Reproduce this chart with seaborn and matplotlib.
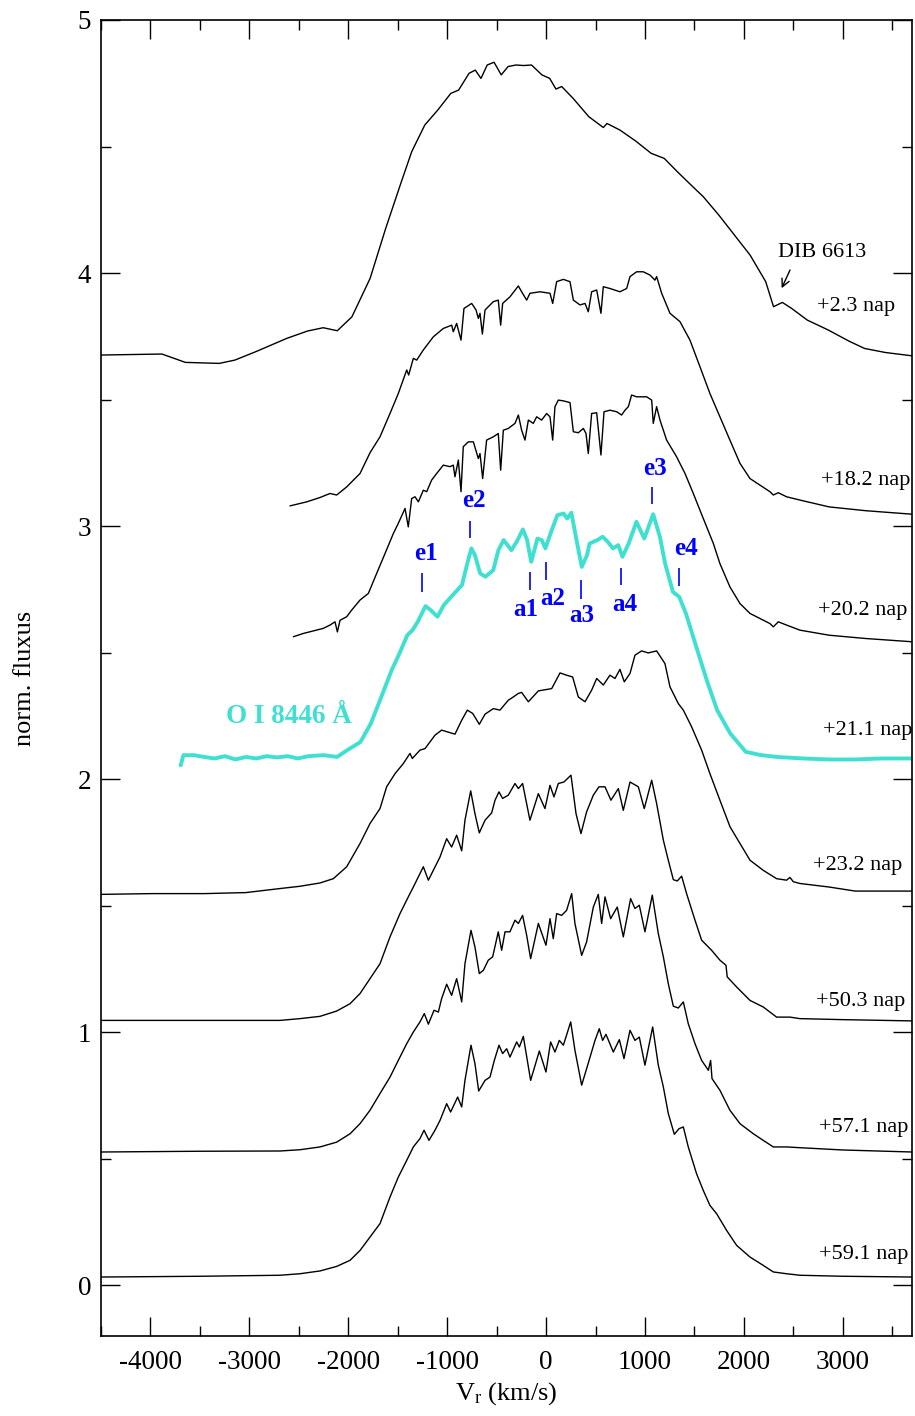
import numpy as np
import pandas as pd
import seaborn as sns
import matplotlib.pyplot as plt
from matplotlib.ticker import MultipleLocator

# Spektrumok: (Vr [km/s], eltolt normalt fluxus), a kepről leolvasva
spec_023 = [(-4500, 3.676), (-4200, 3.678), (-3884, 3.680), (-3647, 3.647), (-3305, 3.643),
            (-3147, 3.656), (-2937, 3.689), (-2621, 3.742), (-2411, 3.771), (-2253, 3.784),
            (-2111, 3.772), (-1963, 3.827), (-1779, 3.979), (-1621, 4.177), (-1463, 4.361),
            (-1358, 4.480), (-1226, 4.585), (-1095, 4.644), (-963, 4.710), (-884, 4.723),
            (-779, 4.789), (-716, 4.802), (-658, 4.769), (-595, 4.822), (-526, 4.833),
            (-453, 4.783), (-384, 4.816), (-305, 4.822), (-226, 4.820), (-147, 4.822),
            (-42, 4.783), (37, 4.769), (100, 4.727), (158, 4.737), (274, 4.690),
            (432, 4.618), (579, 4.575), (616, 4.591), (747, 4.565), (905, 4.522),
            (1063, 4.473), (1195, 4.453), (1326, 4.401), (1484, 4.341), (1589, 4.302),
            (1747, 4.229), (1905, 4.150), (2063, 4.071), (2221, 3.966), (2300, 3.867),
            (2389, 3.884), (2484, 3.860), (2642, 3.814), (2853, 3.775), (3063, 3.731),
            (3221, 3.702), (3432, 3.686), (3700, 3.673)]

spec_182 = [(-2589, 3.080), (-2420, 3.096), (-2286, 3.113), (-2185, 3.129), (-2117, 3.123),
            (-2016, 3.155), (-1881, 3.208), (-1780, 3.290), (-1679, 3.353), (-1578, 3.445),
            (-1494, 3.524), (-1409, 3.617), (-1389, 3.597), (-1342, 3.663), (-1308, 3.656),
            (-1241, 3.696), (-1140, 3.748), (-1039, 3.781), (-954, 3.794), (-938, 3.768),
            (-904, 3.801), (-860, 3.735), (-830, 3.860), (-752, 3.880), (-708, 3.854),
            (-685, 3.821), (-668, 3.841), (-644, 3.759), (-617, 3.854), (-533, 3.887),
            (-483, 3.893), (-459, 3.794), (-439, 3.880), (-365, 3.906), (-280, 3.949),
            (-247, 3.926), (-196, 3.893), (-163, 3.920), (-61, 3.926), (40, 3.920),
            (67, 3.880), (107, 3.966), (175, 3.975), (242, 3.966), (276, 3.893),
            (343, 3.874), (394, 3.880), (427, 3.847), (461, 3.926), (512, 3.933),
            (555, 3.841), (579, 3.946), (646, 3.939), (747, 3.926), (815, 3.939),
            (849, 3.986), (916, 4.005), (983, 4.005), (1051, 3.992), (1101, 3.972),
            (1118, 3.986), (1169, 3.920), (1253, 3.841), (1354, 3.808), (1455, 3.735),
            (1556, 3.630), (1657, 3.524), (1758, 3.432), (1859, 3.340), (1961, 3.248),
            (2062, 3.188), (2163, 3.162), (2264, 3.136), (2298, 3.123), (2348, 3.132),
            (2432, 3.116), (2567, 3.103), (2862, 3.076), (3231, 3.061), (3705, 3.047)]

spec_202 = [(-2555, 2.563), (-2454, 2.576), (-2353, 2.586), (-2252, 2.596), (-2185, 2.609),
            (-2134, 2.622), (-2110, 2.582), (-2083, 2.628), (-2016, 2.642), (-1966, 2.668),
            (-1881, 2.708), (-1797, 2.734), (-1713, 2.813), (-1628, 2.892), (-1544, 2.971),
            (-1494, 3.011), (-1426, 3.070), (-1393, 2.997), (-1359, 3.109), (-1325, 3.116),
            (-1291, 3.096), (-1241, 3.142), (-1207, 3.136), (-1157, 3.182), (-1106, 3.208),
            (-1039, 3.241), (-971, 3.235), (-938, 3.241), (-921, 3.195), (-887, 3.261),
            (-860, 3.136), (-837, 3.314), (-786, 3.333), (-735, 3.333), (-685, 3.267),
            (-668, 3.287), (-641, 3.188), (-601, 3.340), (-533, 3.353), (-483, 3.366),
            (-459, 3.221), (-432, 3.379), (-382, 3.386), (-314, 3.406), (-280, 3.439),
            (-247, 3.379), (-213, 3.340), (-179, 3.419), (-129, 3.406), (-95, 3.432),
            (-45, 3.419), (6, 3.445), (40, 3.432), (67, 3.340), (90, 3.472),
            (124, 3.498), (175, 3.495), (242, 3.488), (276, 3.373), (326, 3.369),
            (377, 3.386), (404, 3.366), (427, 3.287), (461, 3.445), (512, 3.448),
            (555, 3.281), (586, 3.452), (646, 3.458), (714, 3.452), (764, 3.439),
            (798, 3.458), (832, 3.472), (865, 3.518), (916, 3.511), (966, 3.511),
            (1017, 3.511), (1068, 3.498), (1084, 3.406), (1118, 3.472), (1152, 3.419),
            (1219, 3.340), (1320, 3.274), (1405, 3.208), (1489, 3.129), (1556, 3.063),
            (1624, 2.997), (1691, 2.932), (1758, 2.852), (1859, 2.760), (1961, 2.694),
            (2062, 2.655), (2163, 2.635), (2264, 2.615), (2298, 2.602), (2348, 2.622),
            (2432, 2.609), (2567, 2.589), (2862, 2.569), (3231, 2.556), (3705, 2.543)]

# O I 8446 (+21.1 nap)
spec_oi = [(-3694, 2.055), (-3667, 2.095), (-3562, 2.095), (-3457, 2.088), (-3352, 2.082),
           (-3246, 2.091), (-3141, 2.078), (-3036, 2.088), (-2930, 2.082), (-2825, 2.091),
           (-2720, 2.086), (-2614, 2.091), (-2509, 2.082), (-2404, 2.091), (-2246, 2.095),
           (-2114, 2.088), (-2009, 2.115), (-1877, 2.147), (-1772, 2.220), (-1666, 2.325),
           (-1561, 2.431), (-1482, 2.497), (-1403, 2.569), (-1350, 2.589), (-1298, 2.622),
           (-1219, 2.684), (-1166, 2.668), (-1098, 2.642), (-1034, 2.688), (-929, 2.734),
           (-850, 2.767), (-797, 2.852), (-755, 2.912), (-719, 2.885), (-666, 2.813),
           (-613, 2.800), (-534, 2.826), (-482, 2.905), (-429, 2.945), (-350, 2.905),
           (-297, 2.938), (-234, 2.987), (-192, 2.945), (-150, 2.859), (-87, 2.951),
           (-44, 2.945), (-7, 2.912), (45, 2.971), (114, 3.043), (177, 3.050),
           (214, 3.030), (256, 3.053), (308, 2.945), (361, 2.839), (414, 2.885),
           (440, 2.931), (519, 2.945), (572, 2.958), (624, 2.938), (677, 2.912),
           (730, 2.925), (772, 2.879), (835, 2.931), (914, 3.017), (993, 2.951),
           (1083, 3.047), (1151, 2.958), (1204, 2.852), (1283, 2.740), (1346, 2.721),
           (1414, 2.655), (1519, 2.523), (1625, 2.391), (1730, 2.273), (1862, 2.181),
           (2020, 2.108), (2178, 2.095), (2336, 2.088), (2599, 2.082), (2862, 2.078),
           (3126, 2.078), (3389, 2.082), (3705, 2.082)]

spec_232 = [(-4500, 1.545), (-3983, 1.548), (-3457, 1.548), (-3036, 1.552), (-2690, 1.568),
            (-2488, 1.577), (-2286, 1.590), (-2151, 1.607), (-2016, 1.654), (-1881, 1.746),
            (-1780, 1.825), (-1679, 1.884), (-1612, 1.970), (-1527, 2.022), (-1443, 2.062),
            (-1376, 2.102), (-1352, 2.082), (-1275, 2.115), (-1224, 2.121), (-1123, 2.174),
            (-1056, 2.194), (-921, 2.178), (-853, 2.233), (-796, 2.273), (-742, 2.260),
            (-675, 2.217), (-617, 2.257), (-533, 2.279), (-466, 2.273), (-382, 2.312),
            (-331, 2.325), (-280, 2.339), (-247, 2.343), (-179, 2.306), (-78, 2.349),
            (57, 2.358), (141, 2.420), (208, 2.411), (269, 2.404), (326, 2.325),
            (394, 2.306), (461, 2.352), (512, 2.398), (579, 2.372), (646, 2.411),
            (697, 2.398), (747, 2.434), (791, 2.385), (849, 2.418), (899, 2.490),
            (966, 2.507), (1034, 2.499), (1118, 2.507), (1202, 2.457), (1253, 2.365),
            (1337, 2.299), (1388, 2.273), (1472, 2.207), (1573, 2.115), (1657, 2.022),
            (1758, 1.917), (1860, 1.812), (1961, 1.746), (2062, 1.680), (2196, 1.640),
            (2331, 1.607), (2432, 1.601), (2466, 1.612), (2500, 1.595), (2567, 1.588),
            (2862, 1.574), (3126, 1.558), (3389, 1.558), (3700, 1.558)]

spec_503 = [(-4500, 1.047), (-3500, 1.047), (-2690, 1.047), (-2488, 1.054), (-2286, 1.063),
            (-2117, 1.084), (-1982, 1.113), (-1881, 1.153), (-1780, 1.212), (-1679, 1.271),
            (-1578, 1.377), (-1477, 1.469), (-1393, 1.535), (-1342, 1.574), (-1275, 1.627),
            (-1241, 1.654), (-1190, 1.601), (-1140, 1.640), (-1072, 1.693), (-1005, 1.765),
            (-955, 1.732), (-904, 1.779), (-853, 1.717), (-820, 1.838), (-762, 1.954),
            (-719, 1.864), (-675, 1.788), (-617, 1.838), (-550, 1.867), (-516, 1.917),
            (-476, 1.950), (-439, 1.924), (-382, 1.937), (-314, 1.983), (-280, 1.963),
            (-237, 1.983), (-163, 1.838), (-78, 1.943), (-11, 1.884), (40, 1.976),
            (80, 1.930), (124, 1.983), (181, 1.989), (252, 2.016), (303, 1.864),
            (353, 1.785), (410, 1.871), (478, 1.937), (535, 1.970), (596, 1.970),
            (656, 1.917), (731, 1.963), (781, 1.877), (849, 1.989), (933, 1.970),
            (993, 1.884), (1068, 1.996), (1118, 1.904), (1186, 1.759), (1236, 1.680),
            (1287, 1.603), (1327, 1.598), (1371, 1.617), (1421, 1.548), (1506, 1.443),
            (1573, 1.364), (1674, 1.324), (1758, 1.285), (1819, 1.265), (1832, 1.219),
            (1927, 1.179), (2062, 1.126), (2196, 1.100), (2331, 1.060), (2466, 1.060),
            (2567, 1.054), (3000, 1.050), (3700, 1.045)]

spec_571 = [(-4500, 0.527), (-3500, 0.530), (-2690, 0.531), (-2488, 0.536), (-2286, 0.547),
            (-2117, 0.566), (-1982, 0.599), (-1881, 0.639), (-1780, 0.692), (-1679, 0.758),
            (-1578, 0.823), (-1494, 0.889), (-1409, 0.955), (-1342, 1.001), (-1275, 1.041),
            (-1231, 1.074), (-1190, 1.032), (-1133, 1.087), (-1089, 1.080), (-1056, 1.133),
            (-1005, 1.190), (-955, 1.146), (-904, 1.212), (-853, 1.120), (-820, 1.271),
            (-759, 1.403), (-719, 1.337), (-675, 1.232), (-634, 1.245), (-584, 1.285),
            (-540, 1.298), (-483, 1.397), (-449, 1.324), (-415, 1.397), (-365, 1.397),
            (-314, 1.443), (-280, 1.430), (-237, 1.462), (-196, 1.383), (-156, 1.291),
            (-78, 1.430), (-1, 1.344), (40, 1.449), (73, 1.370), (107, 1.469),
            (158, 1.462), (208, 1.482), (259, 1.548), (292, 1.430), (360, 1.304),
            (410, 1.357), (478, 1.495), (528, 1.545), (562, 1.430), (596, 1.535),
            (653, 1.449), (720, 1.495), (781, 1.377), (855, 1.528), (899, 1.489),
            (943, 1.502), (1000, 1.397), (1074, 1.542), (1135, 1.390), (1186, 1.298),
            (1236, 1.192), (1287, 1.103), (1337, 1.096), (1388, 1.120), (1438, 1.034),
            (1506, 0.955), (1573, 0.889), (1641, 0.850), (1664, 0.889), (1678, 0.817),
            (1758, 0.771), (1859, 0.692), (1961, 0.639), (2096, 0.599), (2196, 0.573),
            (2298, 0.547), (2432, 0.547), (2567, 0.544), (3000, 0.535), (3700, 0.527)]

spec_591 = [(-4500, 0.033), (-3500, 0.036), (-2690, 0.040), (-2488, 0.046), (-2286, 0.057),
            (-2117, 0.075), (-1982, 0.099), (-1881, 0.138), (-1780, 0.191), (-1679, 0.244),
            (-1578, 0.349), (-1494, 0.428), (-1409, 0.494), (-1342, 0.547), (-1275, 0.580),
            (-1234, 0.613), (-1184, 0.573), (-1123, 0.613), (-1072, 0.652), (-1005, 0.718),
            (-965, 0.685), (-894, 0.744), (-853, 0.705), (-820, 0.810), (-759, 0.949),
            (-719, 0.876), (-681, 0.768), (-617, 0.810), (-567, 0.823), (-523, 0.889),
            (-476, 0.949), (-439, 0.916), (-398, 0.935), (-365, 0.902), (-297, 0.962),
            (-270, 0.942), (-230, 0.984), (-156, 0.810), (-68, 0.926), (-1, 0.843),
            (46, 0.962), (90, 0.922), (134, 0.968), (175, 0.949), (201, 0.981),
            (249, 1.041), (292, 0.929), (360, 0.791), (410, 0.856), (495, 0.968),
            (538, 1.014), (572, 0.968), (606, 0.992), (680, 0.922), (741, 0.971),
            (788, 0.896), (849, 1.008), (899, 0.968), (943, 0.981), (1000, 0.870),
            (1078, 1.021), (1135, 0.870), (1186, 0.784), (1236, 0.679), (1297, 0.597),
            (1344, 0.619), (1388, 0.626), (1438, 0.547), (1522, 0.441), (1590, 0.375),
            (1657, 0.316), (1725, 0.283), (1826, 0.217), (1927, 0.158), (2062, 0.112),
            (2196, 0.079), (2298, 0.053), (2432, 0.046), (2567, 0.040), (3000, 0.036),
            (3700, 0.033)]

# Epochak feliratai
nap_labels = ['+2.3 nap', '+18.2 nap', '+20.2 nap', '+21.1 nap',
              '+23.2 nap', '+50.3 nap', '+57.1 nap', '+59.1 nap']
nap_x = [3528, 3680, 3650, 3700, 3599, 3629, 3660, 3660]
nap_y = [3.866, 3.182, 2.668, 2.194, 1.660, 1.120, 0.624, 0.123]

# O I komponensek jelolese
komp_nev = ['e1', 'e2', 'a1', 'a2', 'a3', 'a4', 'e3', 'e4']
komp_v = [-1251, -769, -163, -4, 353, 758, 1068, 1347]
komp_lo = [2.740, 2.953, 2.747, 2.789, 2.714, 2.767, 3.087, 2.763]
komp_hi = [2.813, 3.020, 2.818, 2.859, 2.787, 2.834, 3.155, 2.834]
komp_txt_x = [-1211, -725, -203, 67, 360, 798, 1101, 1411]
komp_txt_y = [2.893, 3.100, 2.672, 2.715, 2.648, 2.692, 3.229, 2.913]

sns.set_theme(style='ticks')
plt.rcParams['font.family'] = ['Liberation Serif', 'DejaVu Serif']
plt.rcParams['mathtext.default'] = 'regular'
plt.rcParams['axes.unicode_minus'] = False
for k in ['text.color', 'axes.labelcolor', 'xtick.color', 'ytick.color', 'axes.edgecolor']:
    plt.rcParams[k] = 'black'

fig = plt.figure(figsize=(9.15, 14.16), dpi=100)
ax = fig.add_axes([0.1104, 0.0565, 0.8863, 0.9294])

fekete = [spec_023, spec_182, spec_202, spec_232, spec_503, spec_571, spec_591]
for sp in fekete:
    df = pd.DataFrame(sp, columns=['vr', 'flux'])
    sns.lineplot(data=df, x='vr', y='flux', sort=False, estimator=None,
                 color='black', lw=1.0, ax=ax)

df_oi = pd.DataFrame(spec_oi, columns=['vr', 'flux'])
sns.lineplot(data=df_oi, x='vr', y='flux', sort=False, estimator=None,
             color='#40e0d0', lw=2.8, ax=ax)

ax.vlines(komp_v, komp_lo, komp_hi, color='blue', lw=1.2)
for nev, tx, ty in zip(komp_nev, komp_txt_x, komp_txt_y):
    ax.text(tx, ty, nev, color='blue', fontsize=18, fontweight='bold',
            ha='center', va='center')

for lab, tx, ty in zip(nap_labels, nap_x, nap_y):
    ax.text(tx, ty, lab, fontsize=16, color='black', ha='right', va='center')

ax.text(-2604, 2.246, 'O I 8446 Å', color='#40e0d0', fontsize=19.5,
        fontweight='bold', ha='center', va='center')

# DIB jelolese nyillal
ax.text(2790, 4.083, 'DIB 6613', fontsize=16, color='black', ha='center', va='center')
ax.annotate('', xy=(2382, 3.940), xytext=(2467, 4.012), xycoords='data',
            textcoords='data', annotation_clip=False, zorder=6,
            arrowprops=dict(arrowstyle='->', color='black', lw=1.0,
                            mutation_scale=14, shrinkA=0, shrinkB=0))

ax.set_xlim(-4500, 3700)
ax.set_ylim(-0.2, 5)
ax.xaxis.set_major_locator(MultipleLocator(1000))
ax.xaxis.set_minor_locator(MultipleLocator(500))
ax.yaxis.set_major_locator(MultipleLocator(1))
ax.yaxis.set_minor_locator(MultipleLocator(0.5))
ax.tick_params(which='both', direction='in', top=True, right=True,
               width=1.0, labelsize=19.5, colors='black')
ax.tick_params(which='major', length=14)
ax.tick_params(which='minor', length=7)
ax.tick_params(axis='x', pad=10)
ax.tick_params(axis='y', pad=7)
for s in ax.spines.values():
    s.set_linewidth(1.2)
    s.set_color('black')

ax.set_xlabel('V$_{r}$ (km/s)', fontsize=19, labelpad=4)
ax.set_ylabel('norm. fluxus', fontsize=19, labelpad=30)

fig.savefig('out.png', dpi=100)
